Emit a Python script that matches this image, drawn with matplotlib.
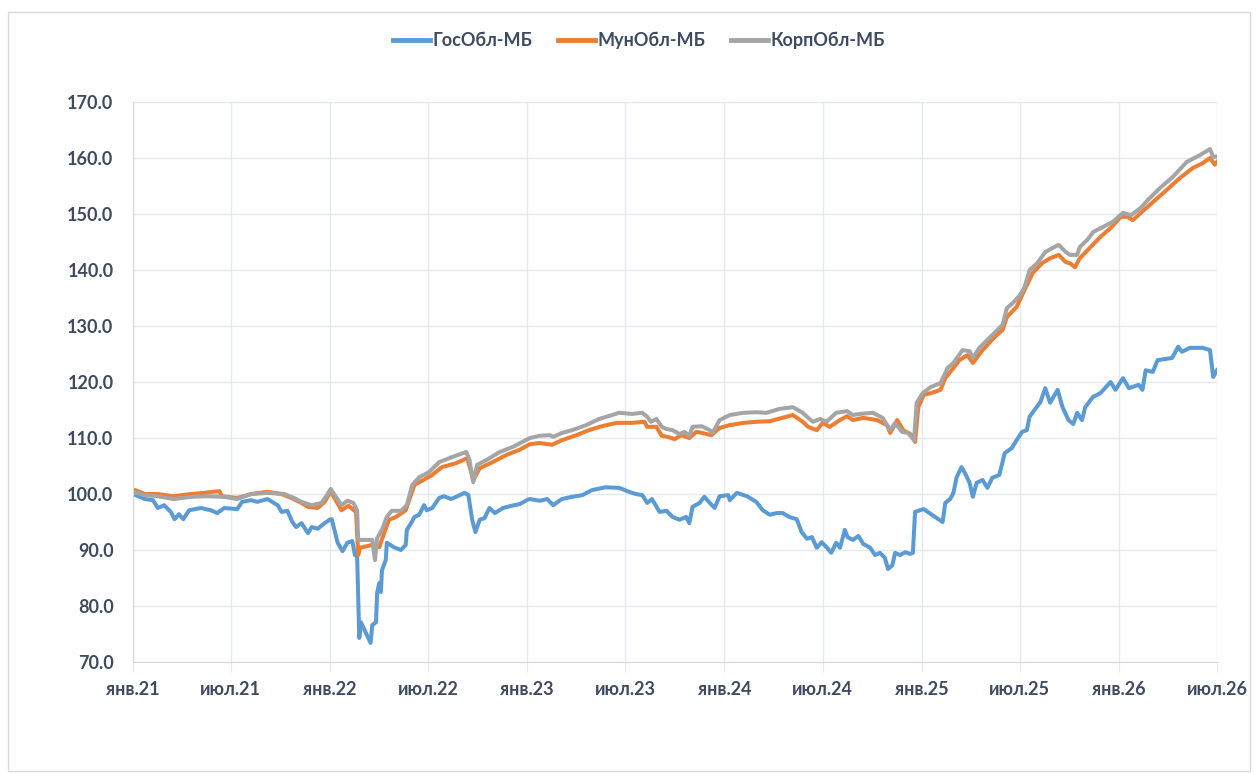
import matplotlib
matplotlib.use("Agg")
import matplotlib.pyplot as plt
import pandas as pd
from matplotlib.patches import Rectangle

plt.rcParams['font.family'] = ['Lato', 'DejaVu Sans']

series_names = ['ГосОбл-МБ', 'МунОбл-МБ', 'КорпОбл-МБ']

gos_dates = ['2021-01-01', '2021-01-23', '2021-02-07', '2021-02-16', '2021-02-28', '2021-03-12', '2021-03-19', '2021-03-27',
             '2021-04-04', '2021-04-15', '2021-05-07', '2021-05-25', '2021-06-06', '2021-06-19', '2021-07-13', '2021-07-22',
             '2021-08-08', '2021-08-19', '2021-09-07', '2021-09-26', '2021-10-03', '2021-10-14', '2021-10-23', '2021-10-30',
             '2021-11-09', '2021-11-21', '2021-11-28', '2021-12-09', '2021-12-22', '2021-12-31', '2022-01-04', '2022-01-09',
             '2022-01-15', '2022-01-24', '2022-02-02', '2022-02-11', '2022-02-16', '2022-02-20', '2022-02-24', '2022-02-27',
             '2022-03-17', '2022-03-20', '2022-03-27', '2022-03-29', '2022-04-02', '2022-04-05', '2022-04-07', '2022-04-14',
             '2022-04-16', '2022-04-29', '2022-05-12', '2022-05-21', '2022-05-23', '2022-05-31', '2022-06-06', '2022-06-15',
             '2022-06-24', '2022-06-29', '2022-07-09', '2022-07-22', '2022-07-31', '2022-08-13', '2022-08-22', '2022-09-07',
             '2022-09-14', '2022-09-21', '2022-09-27', '2022-10-05', '2022-10-14', '2022-10-23', '2022-11-02', '2022-11-17',
             '2022-12-03', '2022-12-18', '2023-01-02', '2023-01-06', '2023-01-24', '2023-02-07', '2023-02-18', '2023-03-06',
             '2023-03-25', '2023-04-13', '2023-05-01', '2023-05-26', '2023-06-20', '2023-07-08', '2023-07-21', '2023-08-02',
             '2023-08-11', '2023-08-20', '2023-09-03', '2023-09-16', '2023-09-27', '2023-10-10', '2023-10-22', '2023-10-28',
             '2023-11-03', '2023-11-16', '2023-11-25', '2023-12-05', '2023-12-14', '2023-12-23', '2024-01-08', '2024-01-11',
             '2024-01-24', '2024-02-12', '2024-02-29', '2024-03-12', '2024-03-25', '2024-04-07', '2024-04-18', '2024-04-30',
             '2024-05-14', '2024-05-23', '2024-06-02', '2024-06-11', '2024-06-20', '2024-06-29', '2024-07-08', '2024-07-17',
             '2024-07-26', '2024-08-02', '2024-08-11', '2024-08-16', '2024-08-26', '2024-09-05', '2024-09-14', '2024-09-27',
             '2024-10-06', '2024-10-15', '2024-10-24', '2024-10-30', '2024-11-07', '2024-11-12', '2024-11-21', '2024-12-01',
             '2024-12-10', '2024-12-15', '2024-12-19', '2024-12-28', '2025-01-04', '2025-01-22', '2025-02-08', '2025-02-13',
             '2025-02-22', '2025-02-28', '2025-03-06', '2025-03-15', '2025-03-21', '2025-03-30', '2025-04-05', '2025-04-12',
             '2025-04-23', '2025-05-02', '2025-05-11', '2025-05-24', '2025-06-03', '2025-06-16', '2025-06-25', '2025-07-05',
             '2025-07-14', '2025-07-19', '2025-07-28', '2025-08-08', '2025-08-17', '2025-08-26', '2025-09-09', '2025-09-18',
             '2025-09-29', '2025-10-08', '2025-10-15', '2025-10-24', '2025-10-30', '2025-11-13', '2025-11-27', '2025-12-16',
             '2025-12-25', '2026-01-08', '2026-01-19', '2026-02-06', '2026-02-13', '2026-02-19', '2026-03-04', '2026-03-13',
             '2026-04-09', '2026-04-20', '2026-04-27', '2026-05-12', '2026-06-05', '2026-06-18', '2026-06-24', '2026-07-01']
gos_values = [100.0, 99.1, 98.9, 97.5, 98.0, 96.8, 95.5, 96.4,
              95.5, 97.1, 97.5, 97.1, 96.6, 97.5, 97.3, 98.6,
              98.9, 98.6, 99.1, 98.0, 96.8, 97.0, 95.0, 94.1,
              94.8, 93.0, 94.1, 93.8, 94.8, 95.4, 95.5, 93.6,
              91.3, 89.8, 91.3, 91.6, 89.1, 88.9, 74.3, 77.1,
              73.4, 76.6, 77.1, 82.3, 84.1, 82.5, 86.4, 88.2,
              91.3, 90.5, 90.0, 90.9, 93.6, 94.8, 95.9, 96.3,
              98.0, 97.1, 97.5, 99.3, 99.6, 99.1, 99.5, 100.2,
              99.8, 95.4, 93.2, 95.4, 95.7, 97.5, 96.6, 97.5,
              97.9, 98.2, 99.0, 99.1, 98.8, 99.1, 98.0, 99.1,
              99.5, 99.8, 100.7, 101.2, 101.1, 100.4, 100.0, 99.8,
              98.4, 99.1, 96.8, 97.0, 95.9, 95.4, 95.9, 94.8,
              97.7, 98.4, 99.5, 98.4, 97.5, 99.6, 99.8, 98.9,
              100.2, 99.6, 98.6, 97.1, 96.3, 96.6, 96.6, 95.9,
              95.5, 93.2, 92.0, 92.3, 90.4, 91.4, 90.5, 89.5,
              91.3, 90.4, 93.6, 92.3, 91.8, 92.5, 91.1, 90.4,
              89.1, 89.5, 88.6, 86.6, 87.3, 89.5, 89.1, 89.6,
              89.3, 89.5, 96.8, 97.1, 97.3, 96.1, 95.0, 98.4,
              99.1, 100.2, 103.0, 104.8, 103.8, 102.0, 99.5, 102.0,
              102.5, 101.1, 102.9, 103.4, 107.3, 108.2, 109.6, 111.1,
              111.4, 113.8, 115.0, 116.4, 118.9, 116.3, 118.6, 115.5,
              113.2, 112.5, 114.5, 113.2, 115.5, 117.3, 118.0, 120.0,
              118.6, 120.7, 118.9, 119.5, 118.6, 122.1, 121.8, 123.9,
              124.3, 126.3, 125.4, 126.1, 126.1, 125.7, 120.9, 122.1]

mun_dates = ['2021-01-01', '2021-01-05', '2021-01-23', '2021-02-16', '2021-03-17', '2021-04-19', '2021-05-12', '2021-05-30',
             '2021-06-10', '2021-06-15', '2021-07-13', '2021-08-08', '2021-09-07', '2021-10-03', '2021-10-21', '2021-11-09',
             '2021-11-21', '2021-12-09', '2021-12-22', '2022-01-02', '2022-01-22', '2022-02-04', '2022-02-18', '2022-02-22',
             '2022-02-25', '2022-03-20', '2022-04-02', '2022-04-11', '2022-04-20', '2022-05-03', '2022-05-21', '2022-06-06',
             '2022-06-15', '2022-07-09', '2022-07-27', '2022-08-22', '2022-09-12', '2022-09-23', '2022-10-05', '2022-10-29',
             '2022-11-24', '2022-12-18', '2023-01-06', '2023-01-24', '2023-02-16', '2023-03-06', '2023-04-02', '2023-04-25',
             '2023-05-19', '2023-06-15', '2023-07-14', '2023-08-06', '2023-08-11', '2023-08-28', '2023-09-07', '2023-09-18',
             '2023-10-01', '2023-10-13', '2023-10-28', '2023-11-10', '2023-11-21', '2023-12-08', '2023-12-23', '2024-01-11',
             '2024-02-05', '2024-02-29', '2024-03-25', '2024-04-25', '2024-05-07', '2024-05-25', '2024-06-04', '2024-06-20',
             '2024-07-01', '2024-07-14', '2024-08-02', '2024-08-15', '2024-08-26', '2024-09-14', '2024-10-10', '2024-10-28',
             '2024-11-03', '2024-11-16', '2024-11-27', '2024-12-14', '2024-12-19', '2024-12-25', '2025-01-04', '2025-01-17',
             '2025-02-04', '2025-02-13', '2025-02-28', '2025-03-11', '2025-03-26', '2025-04-05', '2025-04-23', '2025-05-15',
             '2025-05-30', '2025-06-07', '2025-06-25', '2025-07-07', '2025-07-16', '2025-07-25', '2025-08-11', '2025-08-26',
             '2025-09-11', '2025-09-24', '2025-10-02', '2025-10-11', '2025-10-20', '2025-11-09', '2025-11-27', '2025-12-16',
             '2026-01-04', '2026-01-17', '2026-01-26', '2026-02-10', '2026-03-04', '2026-03-30', '2026-04-23', '2026-05-17',
             '2026-06-05', '2026-06-18', '2026-06-27', '2026-07-01']
mun_values = [100.0, 100.7, 100.0, 100.0, 99.6, 100.0, 100.2, 100.4,
              100.5, 99.6, 99.3, 100.0, 100.4, 100.0, 99.3, 98.4,
              97.7, 97.5, 98.6, 100.5, 97.1, 97.9, 96.8, 89.1,
              90.4, 90.9, 90.5, 93.0, 95.4, 95.9, 97.1, 101.6,
              102.1, 103.4, 104.8, 105.5, 106.4, 102.5, 104.6, 105.7,
              107.0, 107.9, 108.9, 109.1, 108.8, 109.6, 110.5, 111.4,
              112.1, 112.7, 112.7, 112.9, 112.0, 112.0, 110.4, 110.2,
              109.8, 110.5, 110.0, 111.1, 110.9, 110.5, 111.8, 112.3,
              112.7, 112.9, 113.0, 113.8, 114.1, 112.9, 112.0, 111.4,
              112.7, 112.0, 113.2, 113.9, 113.2, 113.6, 113.2, 112.3,
              110.9, 113.2, 111.4, 110.5, 109.3, 115.5, 117.7, 118.0,
              118.6, 120.7, 122.5, 123.9, 124.8, 123.4, 125.7, 128.0,
              129.3, 131.6, 133.4, 135.9, 137.7, 139.5, 141.2, 142.1,
              142.7, 141.4, 141.2, 140.5, 142.1, 144.1, 145.9, 147.5,
              149.5, 149.5, 148.9, 150.2, 152.1, 154.3, 156.4, 158.2,
              159.1, 160.0, 158.8, 159.3]

korp_dates = ['2021-01-01', '2021-01-05', '2021-01-23', '2021-02-16', '2021-03-17', '2021-04-19', '2021-05-18', '2021-06-19',
              '2021-07-13', '2021-08-08', '2021-09-07', '2021-10-08', '2021-10-26', '2021-11-09', '2021-11-28', '2021-12-16',
              '2021-12-26', '2022-01-02', '2022-01-13', '2022-01-22', '2022-02-02', '2022-02-13', '2022-02-20', '2022-02-22',
              '2022-03-20', '2022-03-25', '2022-03-29', '2022-04-07', '2022-04-16', '2022-04-25', '2022-05-12', '2022-05-23',
              '2022-06-02', '2022-06-15', '2022-07-03', '2022-07-22', '2022-08-15', '2022-09-10', '2022-09-16', '2022-09-23',
              '2022-09-30', '2022-10-18', '2022-11-11', '2022-12-05', '2022-12-23', '2023-01-06', '2023-01-24', '2023-02-12',
              '2023-02-18', '2023-03-06', '2023-03-25', '2023-04-20', '2023-05-14', '2023-06-07', '2023-06-20', '2023-07-14',
              '2023-08-02', '2023-08-11', '2023-08-18', '2023-08-28', '2023-09-07', '2023-09-16', '2023-09-27', '2023-10-10',
              '2023-10-19', '2023-10-28', '2023-11-03', '2023-11-20', '2023-12-05', '2023-12-10', '2023-12-23', '2024-01-11',
              '2024-02-05', '2024-02-29', '2024-03-19', '2024-04-12', '2024-05-07', '2024-05-25', '2024-06-04', '2024-06-13',
              '2024-06-26', '2024-07-08', '2024-07-26', '2024-08-15', '2024-08-26', '2024-09-08', '2024-10-02', '2024-10-20',
              '2024-11-03', '2024-11-12', '2024-11-25', '2024-12-06', '2024-12-17', '2024-12-22', '2025-01-02', '2025-01-17',
              '2025-02-04', '2025-02-13', '2025-02-17', '2025-02-28', '2025-03-08', '2025-03-17', '2025-03-30', '2025-04-05',
              '2025-04-17', '2025-05-06', '2025-05-21', '2025-05-30', '2025-06-07', '2025-06-18', '2025-07-01', '2025-07-10',
              '2025-07-19', '2025-08-02', '2025-08-17', '2025-08-30', '2025-09-11', '2025-09-24', '2025-10-02', '2025-10-15',
              '2025-10-20', '2025-11-03', '2025-11-14', '2025-12-02', '2025-12-20', '2026-01-08', '2026-01-23', '2026-02-10',
              '2026-02-23', '2026-03-17', '2026-04-10', '2026-05-06', '2026-05-30', '2026-06-18', '2026-06-24', '2026-07-01']
korp_values = [100.0, 100.3, 99.8, 99.6, 99.1, 99.5, 99.6, 99.5,
               99.1, 100.0, 100.2, 100.0, 99.3, 98.6, 98.0, 98.4,
               99.8, 100.9, 99.3, 98.0, 98.8, 98.4, 97.1, 91.8,
               91.8, 88.2, 92.1, 93.6, 95.9, 97.0, 97.0, 98.0,
               101.6, 103.0, 103.9, 105.7, 106.6, 107.5, 106.1, 102.1,
               105.2, 106.1, 107.5, 108.4, 109.3, 110.0, 110.4, 110.5,
               110.2, 110.9, 111.4, 112.3, 113.4, 114.1, 114.5, 114.3,
               114.5, 113.8, 112.9, 113.4, 112.0, 111.6, 111.4, 110.7,
               111.1, 110.4, 112.0, 112.1, 111.4, 110.9, 113.2, 114.1,
               114.5, 114.6, 114.5, 115.2, 115.5, 114.5, 113.6, 112.9,
               113.4, 112.9, 114.5, 114.8, 114.1, 114.3, 114.5, 113.6,
               111.4, 112.7, 111.1, 110.9, 109.6, 116.3, 118.0, 119.1,
               119.8, 121.6, 122.5, 123.4, 124.5, 125.7, 125.5, 124.3,
               126.1, 127.9, 129.3, 130.2, 133.2, 134.1, 135.5, 137.0,
               140.0, 141.2, 143.2, 143.9, 144.5, 143.2, 142.7, 142.7,
               144.1, 145.4, 146.8, 147.7, 148.6, 150.2, 149.8, 151.1,
               152.5, 154.6, 156.6, 159.3, 160.5, 161.6, 160.2, 160.3]

tick_dates = ['2021-01-01', '2021-07-01', '2022-01-01', '2022-07-01', '2023-01-01', '2023-07-01',
              '2024-01-01', '2024-07-01', '2025-01-01', '2025-07-01', '2026-01-01', '2026-07-01']
tick_labels = ['янв.21', 'июл.21', 'янв.22', 'июл.22', 'янв.23', 'июл.23',
               'янв.24', 'июл.24', 'янв.25', 'июл.25', 'янв.26', 'июл.26']
y_ticks = [70, 80, 90, 100, 110, 120, 130, 140, 150, 160, 170]

colors = ['#5B9BD5', '#ED7D31', '#A5A5A5']
text_color = '#3E4A61'
grid_color = '#E4E8F0'

fig = plt.figure(figsize=(12.58, 7.74), dpi=100)
fig.patches.append(Rectangle((0.0065, 0.004), 0.987, 0.98, transform=fig.transFigure,
                             fill=False, edgecolor='#D9D9D9', linewidth=1.0))
ax = fig.add_axes([0.1057, 0.1447, 0.8617, 0.7235])

for name, d, v, c in [(series_names[0], gos_dates, gos_values, colors[0]),
                      (series_names[1], mun_dates, mun_values, colors[1]),
                      (series_names[2], korp_dates, korp_values, colors[2])]:
    ax.plot(pd.to_datetime(d), v, color=c, lw=2.9, label=name, solid_joinstyle='round')

tks = pd.to_datetime(tick_dates)
ax.set_xlim(tks[0], tks[-1])
ax.set_ylim(70, 170)
ax.set_xticks(tks)
ax.set_xticklabels(tick_labels)
ax.set_yticks(y_ticks)
ax.set_yticklabels([f'{t:.1f}' for t in y_ticks])

ax.grid(True, color=grid_color, linewidth=1.0)
ax.set_axisbelow(True)
for s in ['top', 'right']:
    ax.spines[s].set_visible(False)
ax.spines['left'].set_color('#D0D5DE')
ax.spines['bottom'].set_color('#D0D5DE')
ax.tick_params(axis='x', length=7, color=grid_color, pad=7, labelsize=13, labelcolor=text_color)
ax.tick_params(axis='y', length=0, pad=14, labelsize=13, labelcolor=text_color)
for lab in ax.get_xticklabels() + ax.get_yticklabels():
    lab.set_fontweight('bold')

leg = fig.legend(loc='center', bbox_to_anchor=(0.508, 0.948), ncol=3, frameon=False,
                 handlelength=2.0, handletextpad=0.15, columnspacing=1.45,
                 prop={'weight': 'bold', 'size': 13})
for t in leg.get_texts():
    t.set_color(text_color)
for l in leg.get_lines():
    l.set_linewidth(3.5)

fig.savefig('out.png', dpi=100, facecolor='white')
